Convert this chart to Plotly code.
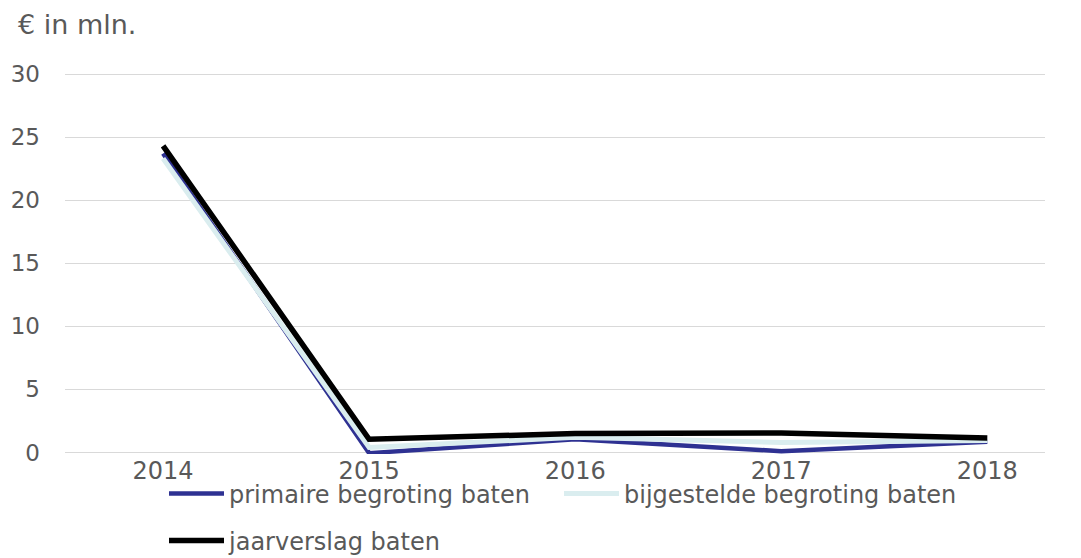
import plotly.graph_objects as go

years = ["2014", "2015", "2016", "2017", "2018"]
primaire = [23.7, -0.05, 1.05, 0.1, 0.85]
bijgesteld = [23.3, 0.4, 1.2, 0.8, 0.95]
jaarverslag = [24.3, 1.05, 1.5, 1.55, 1.15]

names = ["primaire begroting baten", "bijgestelde begroting baten", "jaarverslag baten"]
colors = ["#2E3192", "#DAEDEF", "#000000"]
widths = [4.5, 5, 5.5]
legend_ids = ["legend", "legend2", "legend3"]

W, H = 1081, 558
L, R, T, B = 65, 36, 72, 104
FONT = "DejaVu Sans"
TXT = "#595959"

fig = go.Figure()
for i, (nm, ys) in enumerate(zip(names, [primaire, bijgesteld, jaarverslag])):
    fig.add_trace(go.Scatter(
        x=years, y=ys, mode="lines", name=nm,
        line=dict(color=colors[i], width=widths[i]),
        legend=legend_ids[i], showlegend=True,
    ))

pw = W - L - R
ph = H - T - B


def cx(px):
    return px / W


def cy(py):
    return 1 - py / H


def leg(x_px, y_px):
    return dict(orientation="h", xref="container", yref="container",
                x=cx(x_px), xanchor="left", y=cy(y_px), yanchor="middle",
                itemwidth=55, font=dict(size=24, color=TXT),
                bgcolor="rgba(0,0,0,0)", borderwidth=0)


fig.update_layout(
    width=W, height=H,
    showlegend=True,
    margin=dict(l=L, r=R, t=T, b=B, autoexpand=False),
    paper_bgcolor="white", plot_bgcolor="white",
    font=dict(family=FONT, size=22, color=TXT),
    xaxis=dict(type="category", range=[-0.476, 4.28], showgrid=False,
               showline=False, ticks="", tickfont=dict(size=24, color=TXT),
               ticklabelstandoff=0, automargin=False),
    yaxis=dict(range=[-0.12, 30.16], tickvals=[0, 5, 10, 15, 20, 25, 30],
               showgrid=True, gridcolor="#D9D9D9", gridwidth=1.3,
               zeroline=False, showline=False, ticks="",
               tickfont=dict(size=23, color=TXT), ticklabelstandoff=24,
               automargin=False),
    legend=leg(164, 494),
    legend2=leg(559, 494),
    legend3=leg(164, 541),
    annotations=[dict(text="€ in mln.", xref="paper", yref="paper",
                      x=(16 - L) / pw, y=(H - B - 25) / ph,
                      xanchor="left", yanchor="middle", showarrow=False,
                      font=dict(size=27, color=TXT))],
)

fig.write_html("out.html", config={"displayModeBar": False},
               post_script="document.body.style.margin='0px';")
